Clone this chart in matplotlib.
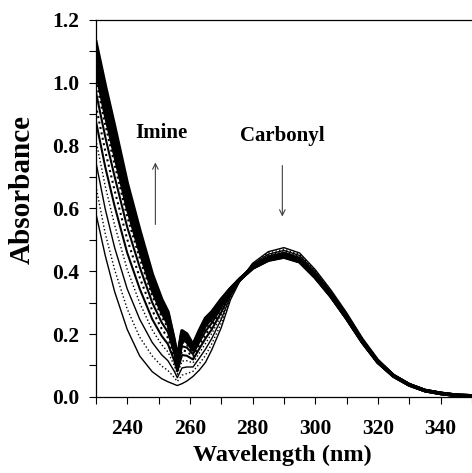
import numpy as np
import matplotlib
matplotlib.use("Agg")
import matplotlib.pyplot as plt
from matplotlib.ticker import MultipleLocator, FixedLocator, FixedFormatter

# ── data ─────────────────────────────────────────────────────────────────
# one row per wavelength, one column per spectrum (early -> late)
Wavelength = [230, 233, 236, 240, 244, 248, 251, 253, 255, 256, 257.5, 259,
              261, 263, 265, 267, 270, 273, 276, 280, 285, 290, 295, 300,
              305, 310, 315, 320, 325, 330, 335, 340, 345, 350]

Absorbance = [
    [0.585, 0.672, 0.749, 0.819, 0.879, 0.928, 0.972, 1.010, 1.043, 1.070, 1.095, 1.114, 1.130],
    [0.450, 0.520, 0.598, 0.671, 0.732, 0.783, 0.828, 0.867, 0.900, 0.928, 0.954, 0.973, 0.990],
    [0.335, 0.405, 0.475, 0.547, 0.607, 0.657, 0.701, 0.739, 0.772, 0.800, 0.824, 0.844, 0.860],
    [0.215, 0.280, 0.344, 0.406, 0.459, 0.502, 0.541, 0.574, 0.603, 0.627, 0.649, 0.666, 0.680],
    [0.130, 0.190, 0.247, 0.299, 0.344, 0.380, 0.413, 0.441, 0.465, 0.485, 0.504, 0.518, 0.530],
    [0.080, 0.130, 0.173, 0.213, 0.247, 0.275, 0.300, 0.322, 0.340, 0.356, 0.370, 0.381, 0.390],
    [0.058, 0.098, 0.134, 0.166, 0.194, 0.217, 0.237, 0.255, 0.270, 0.282, 0.294, 0.302, 0.310],
    [0.048, 0.084, 0.115, 0.143, 0.168, 0.188, 0.206, 0.221, 0.234, 0.246, 0.256, 0.263, 0.270],
    [0.040, 0.062, 0.082, 0.100, 0.116, 0.128, 0.139, 0.149, 0.158, 0.165, 0.171, 0.176, 0.180],
    [0.036, 0.049, 0.061, 0.072, 0.081, 0.089, 0.096, 0.102, 0.107, 0.111, 0.115, 0.117, 0.120],
    [0.042, 0.069, 0.092, 0.114, 0.133, 0.148, 0.161, 0.173, 0.183, 0.192, 0.199, 0.205, 0.210],
    [0.050, 0.074, 0.095, 0.115, 0.131, 0.145, 0.157, 0.167, 0.176, 0.184, 0.190, 0.196, 0.200],
    [0.065, 0.081, 0.095, 0.108, 0.119, 0.128, 0.136, 0.143, 0.149, 0.154, 0.159, 0.162, 0.165],
    [0.085, 0.105, 0.123, 0.139, 0.153, 0.164, 0.174, 0.183, 0.190, 0.196, 0.202, 0.206, 0.210],
    [0.110, 0.132, 0.152, 0.170, 0.186, 0.198, 0.209, 0.219, 0.228, 0.235, 0.241, 0.246, 0.250],
    [0.150, 0.169, 0.186, 0.202, 0.215, 0.226, 0.235, 0.244, 0.251, 0.257, 0.262, 0.266, 0.270],
    [0.220, 0.234, 0.247, 0.259, 0.269, 0.277, 0.284, 0.290, 0.296, 0.300, 0.304, 0.307, 0.310],
    [0.310, 0.316, 0.321, 0.325, 0.329, 0.332, 0.335, 0.337, 0.339, 0.341, 0.343, 0.344, 0.345],
    [0.370, 0.371, 0.372, 0.372, 0.373, 0.373, 0.374, 0.374, 0.374, 0.374, 0.375, 0.375, 0.375],
    [0.425, 0.423, 0.421, 0.419, 0.417, 0.416, 0.414, 0.413, 0.412, 0.412, 0.411, 0.410, 0.410],
    [0.462, 0.458, 0.454, 0.450, 0.447, 0.445, 0.443, 0.441, 0.439, 0.438, 0.437, 0.436, 0.435],
    [0.475, 0.470, 0.466, 0.462, 0.459, 0.456, 0.454, 0.452, 0.450, 0.448, 0.447, 0.446, 0.445],
    [0.458, 0.454, 0.450, 0.446, 0.443, 0.440, 0.438, 0.436, 0.434, 0.433, 0.432, 0.431, 0.430],
    [0.405, 0.401, 0.398, 0.394, 0.392, 0.389, 0.387, 0.386, 0.384, 0.383, 0.382, 0.381, 0.380],
    [0.340, 0.337, 0.334, 0.331, 0.329, 0.327, 0.326, 0.324, 0.323, 0.322, 0.321, 0.321, 0.320],
    [0.268, 0.265, 0.263, 0.260, 0.258, 0.257, 0.255, 0.254, 0.253, 0.252, 0.251, 0.251, 0.250],
    [0.188, 0.186, 0.184, 0.182, 0.181, 0.180, 0.179, 0.178, 0.177, 0.176, 0.176, 0.175, 0.175],
    [0.120, 0.118, 0.117, 0.116, 0.115, 0.114, 0.113, 0.112, 0.112, 0.111, 0.111, 0.110, 0.110],
    [0.072, 0.071, 0.070, 0.069, 0.069, 0.068, 0.068, 0.067, 0.067, 0.067, 0.066, 0.066, 0.066],
    [0.042, 0.041, 0.041, 0.040, 0.040, 0.040, 0.039, 0.039, 0.039, 0.038, 0.038, 0.038, 0.038],
    [0.022, 0.022, 0.021, 0.021, 0.021, 0.021, 0.021, 0.020, 0.020, 0.020, 0.020, 0.020, 0.020],
    [0.012, 0.012, 0.012, 0.012, 0.011, 0.011, 0.011, 0.011, 0.011, 0.011, 0.011, 0.011, 0.011],
    [0.006, 0.006, 0.006, 0.006, 0.006, 0.005, 0.005, 0.005, 0.005, 0.005, 0.005, 0.005, 0.005],
    [0.004, 0.004, 0.004, 0.004, 0.003, 0.003, 0.003, 0.003, 0.003, 0.003, 0.003, 0.003, 0.003],
]

X_ticks  = [240, 260, 280, 300, 320, 340]
Y_ticks  = [0.0, 0.2, 0.4, 0.6, 0.8, 1.0, 1.2]

# ── plot ─────────────────────────────────────────────────────────────────
plt.rcParams["font.family"] = "Liberation Serif"
plt.rcParams["font.weight"] = "bold"

wl = np.array(Wavelength)
spectra = np.array(Absorbance).T

fig = plt.figure(figsize=(4.72, 4.73), dpi=100)
ax = fig.add_axes([0.203, 0.161, 0.797, 0.797])

for k, s in enumerate(spectra):
    if k < 4:
        ls, lw = ("-" if k % 2 == 0 else ":"), 1.0
    elif k < 8:
        ls, lw = ("-" if k % 2 == 0 else ":"), 1.5
    else:
        ls, lw = "-", 2.6
    ax.plot(wl, s, color="black", ls=ls, lw=lw, solid_joinstyle="round")

ax.set_xlim(230, 350)
ax.set_ylim(0, 1.2)

ax.xaxis.set_major_locator(FixedLocator(X_ticks))
ax.xaxis.set_minor_locator(MultipleLocator(10))
ax.yaxis.set_major_locator(FixedLocator(Y_ticks))
ax.yaxis.set_major_formatter(FixedFormatter([f"{v:.1f}" for v in Y_ticks]))
ax.yaxis.set_minor_locator(MultipleLocator(0.1))
ax.tick_params(which="both", direction="out", length=5, width=0.8, labelsize=15.5)
ax.tick_params(axis="x", pad=11)
ax.tick_params(axis="y", pad=7)

ax.spines["right"].set_visible(False)
for sp in ("left", "bottom", "top"):
    ax.spines[sp].set_linewidth(0.9)

ax.set_xlabel("Wavelength (nm)", fontsize=17.5, fontweight="bold")
ax.set_ylabel("Absorbance", fontsize=21, fontweight="bold")
ax.xaxis.set_label_coords(0.497, -0.127)
ax.yaxis.set_label_coords(-0.160, 0.55)

# annotations
ax.text(251, 0.84, "Imine", fontsize=15, fontweight="bold", ha="center", va="center")
ax.text(289.6, 0.83, "Carbonyl", fontsize=15, fontweight="bold", ha="center", va="center")
ax.annotate("", xy=(249, 0.755), xytext=(249, 0.54),
            arrowprops=dict(arrowstyle="->", color="0.25", lw=0.8))
ax.annotate("", xy=(289.5, 0.565), xytext=(289.5, 0.745),
            arrowprops=dict(arrowstyle="->", color="0.25", lw=0.8))

fig.savefig("out.png", dpi=100)
